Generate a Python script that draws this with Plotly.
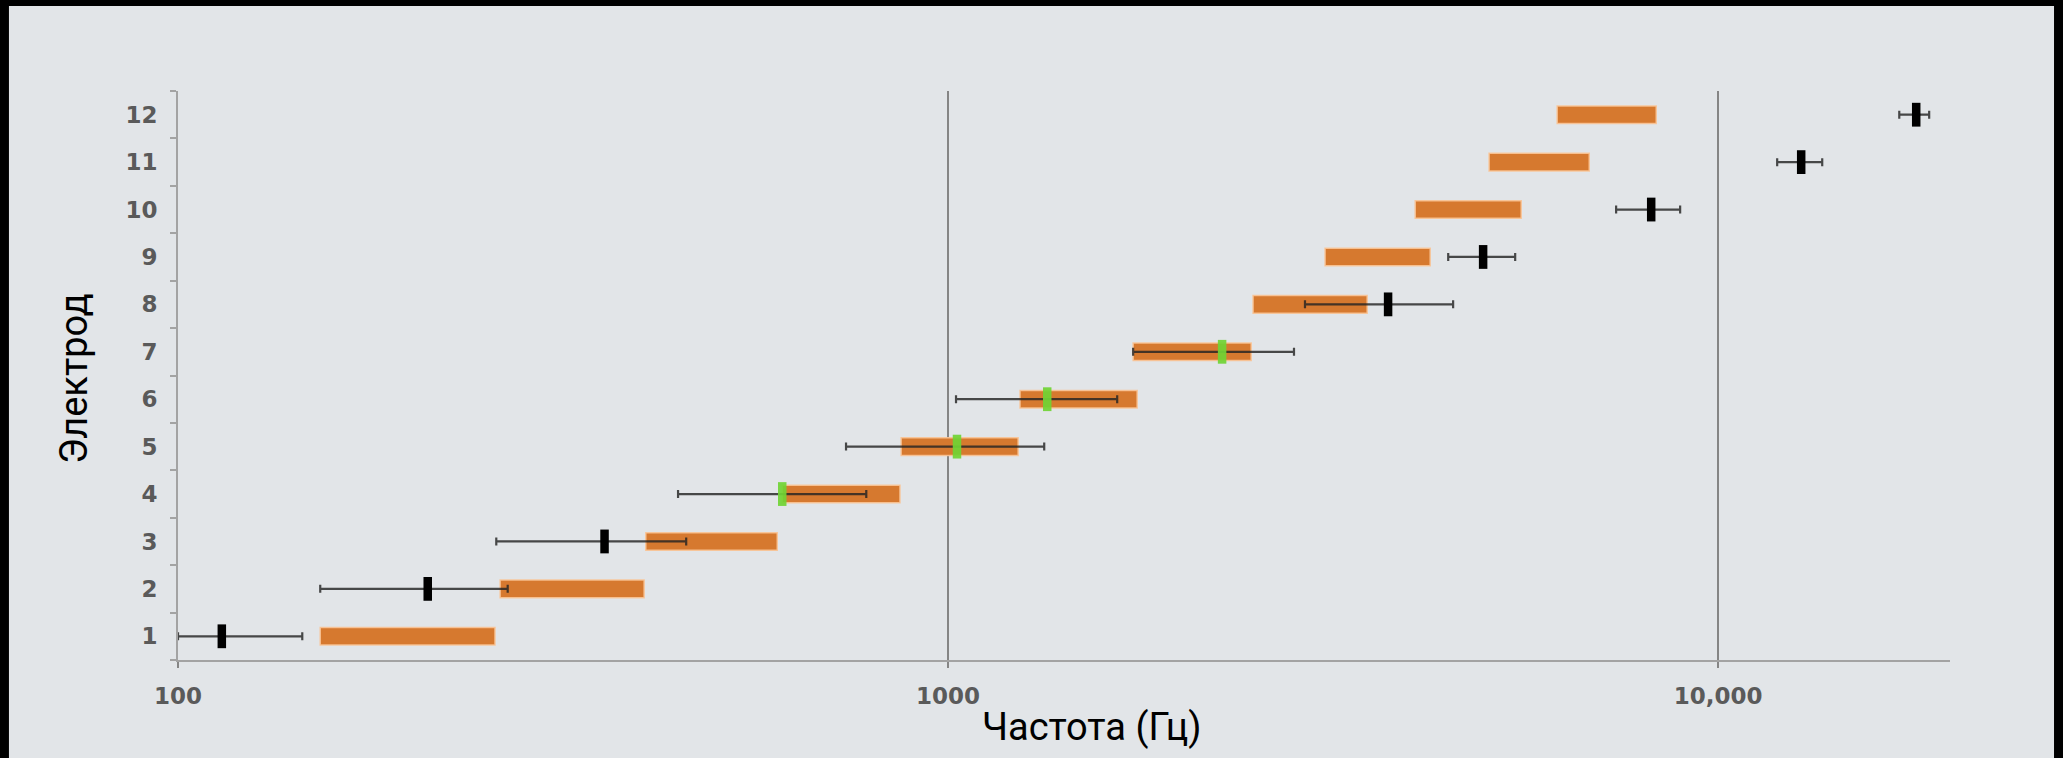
import math
import plotly.graph_objects as go

# Electrode numbers (y axis)
electrodes = list(range(1, 13))

# Frequency band assigned to each electrode, Hz (orange bars)
band_lo = [153, 262, 405, 609, 869, 1240, 1739, 2489, 3087, 4042, 5041, 6179]
band_hi = [258, 403, 600, 866, 1233, 1760, 2475, 3501, 4227, 5549, 6801, 8309]

# Estimated place frequency of each electrode, Hz, with its spread
place_hz = [114, 211, 358, 609, 1027, 1345, 2269, 3727, 4952, 8185, 12817, 18078]
spread_lo = [100, 153, 259, 446, 737, 1024, 1739, 2907, 4461, 7370, 11929, 17185]
spread_hi = [145, 268, 457, 783, 1333, 1658, 2813, 4527, 5450, 8925, 13649, 18793]

# Electrodes whose place frequency falls inside their own band
matched = [False, False, False, True, True, True, True, False, False, False, False, False]

# Axis ticks
x_tickvals = [100, 1000, 10000]
x_ticktext = ["100", "1000", "10,000"]
x_range_hz = [100, 20000]
y_labels = [str(e) for e in electrodes]

ORANGE = "#D6792F"
PANEL = "#E2E5E8"
AXIS = "#A3A3A3"
GRID = "#858585"
TICKFONT = dict(family="DejaVu Sans", size=23, color="#5A5A5A", weight="bold")
TITLEFONT = dict(family="Roboto", size=38, color="#000000")

fig = go.Figure()

# Frequency bands
fig.add_trace(go.Bar(
    orientation="h",
    y=electrodes,
    base=band_lo,
    x=[h - l for l, h in zip(band_lo, band_hi)],
    width=0.37,
    marker=dict(color=ORANGE, line=dict(color="rgba(250,196,150,0.9)", width=1.5)),
    showlegend=False,
    hoverinfo="skip",
))


def place_trace(mask, colour):
    idx = [i for i, m in enumerate(mask) if m]
    xs = [place_hz[i] for i in idx]
    return go.Scatter(
        x=xs,
        y=[electrodes[i] for i in idx],
        mode="markers",
        marker=dict(symbol="line-ns", size=17,
                    line=dict(color=colour, width=8.5)),
        error_x=dict(
            type="data", symmetric=False,
            array=[spread_hi[i] - place_hz[i] for i in idx],
            arrayminus=[place_hz[i] - spread_lo[i] for i in idx],
            color="rgba(35,35,35,0.82)", thickness=2.2, width=4,
        ),
        showlegend=False,
        hoverinfo="skip",
    )


fig.add_trace(place_trace([not m for m in matched], "#000000"))
fig.add_trace(place_trace(matched, "rgba(112,212,52,0.92)"))

fig.update_layout(
    width=2063, height=758,
    margin=dict(l=178, r=113, t=91, b=98, pad=0),
    paper_bgcolor=PANEL,
    plot_bgcolor=PANEL,
    barmode="overlay",
    xaxis=dict(
        type="log",
        range=[math.log10(x_range_hz[0]), math.log10(x_range_hz[1])],
        tickmode="array", tickvals=x_tickvals, ticktext=x_ticktext,
        showgrid=True, gridcolor=GRID, gridwidth=1.5,
        showline=True, linecolor=AXIS, linewidth=2,
        ticks="outside", ticklen=6, tickcolor=GRID, tickwidth=1.5,
        tickfont=TICKFONT, ticklabelstandoff=8,
        zeroline=False,
    ),
    yaxis=dict(
        range=[0.5, 12.5],
        tickmode="array", tickvals=electrodes, ticktext=y_labels,
        showgrid=False, zeroline=False,
        showline=True, linecolor=AXIS, linewidth=2,
        ticks="outside", ticklen=14, tickcolor="rgba(0,0,0,0)",
        tickfont=TICKFONT,
        minor=dict(tickmode="linear", tick0=0.5, dtick=1, ticks="outside",
                   ticklen=6, tickcolor=AXIS, tickwidth=1.5, showgrid=False),
    ),
    annotations=[
        dict(text="Электрод", xref="paper", yref="paper",
             x=-0.0587, y=0.4956, xanchor="center", yanchor="middle",
             textangle=-90, showarrow=False, font=TITLEFONT),
        dict(text="Частота (Гц)", xref="paper", yref="paper",
             x=0.516, y=-0.118, xanchor="center", yanchor="middle",
             showarrow=False, font=TITLEFONT),
    ],
    shapes=[
        # dark frame around the slide panel
        dict(type="rect", xref="paper", yref="paper", x0=-0.2, x1=-0.0954,
             y0=-1, y1=2, fillcolor="#000000", line=dict(width=0), layer="below"),
        dict(type="rect", xref="paper", yref="paper", x0=1.0587, x1=1.2,
             y0=-1, y1=2, fillcolor="#000000", line=dict(width=0), layer="below"),
        dict(type="rect", xref="paper", yref="paper", x0=-0.2, x1=1.2,
             y0=1.1494, y1=2, fillcolor="#000000", line=dict(width=0), layer="below"),
    ],
)

fig.write_html("out.html")
